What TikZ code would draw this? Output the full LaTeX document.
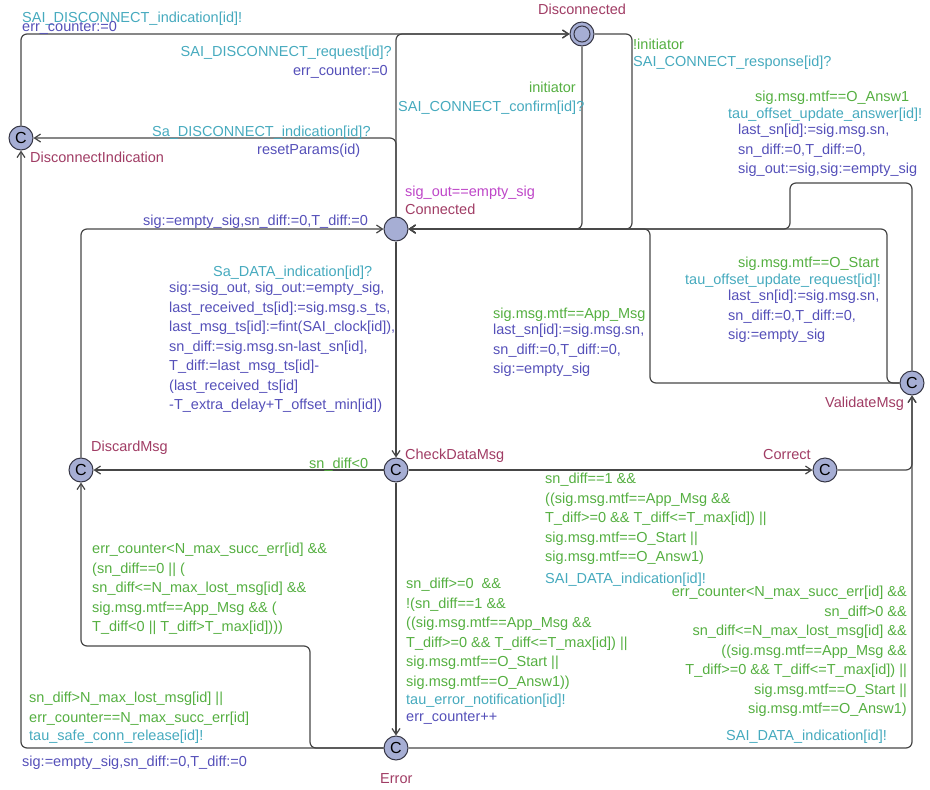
\documentclass[tikz,border=0pt]{standalone}
\usepackage{fontspec}
\setmainfont[Ligatures=NoCommon]{Liberation Sans}
\usetikzlibrary{arrows.meta}
\definecolor{locfill}{RGB}{166,174,212}
\definecolor{locline}{RGB}{55,55,70}
\definecolor{edgecol}{RGB}{70,70,70}
\definecolor{namecol}{RGB}{160,60,100}
\definecolor{invcol}{RGB}{190,70,200}
\definecolor{guardcol}{RGB}{85,175,65}
\definecolor{synccol}{RGB}{70,170,190}
\definecolor{updcol}{RGB}{85,80,185}
\begin{document}
\begin{tikzpicture}[x=1pt,y=-1pt,
	loc/.style={circle,draw=locline,fill=locfill,line width=1pt,minimum size=24pt,inner sep=0pt,font=\fontsize{16}{16}\selectfont},
	lab/.style={inner sep=0pt,align=left,anchor=north west,font=\fontsize{14.5}{19.5}\selectfont,execute at begin node=\strut},
	locname/.style={lab,text=namecol},
	inv/.style={lab,text=invcol},
	guard/.style={lab,text=guardcol},
	sync/.style={lab,text=synccol},
	upd/.style={lab,text=updcol},
	edge/.style={draw=edgecol,line width=1.2pt,rounded corners=6pt,-{Straight Barb[length=6pt,width=8pt]}}]
				%\draw [help lines] (0,0) grid[step=10] (930,790);
				\useasboundingbox (0,0) rectangle (930,790);
				% locations
				\node[loc] (discind) at (21,138) {C};
				\node[loc] (disc) at (582,34) {};
				\node[loc,minimum size=16pt] (disc-in) at (disc) {};
				\node[loc] (conn) at (396,229) {};
				\node[loc] (discard) at (81,470) {C};
				\node[loc] (check) at (396,470) {C};
				\node[loc] (correct) at (825,470) {C};
				\node[loc] (valid) at (912,383) {C};
				\node[loc] (err) at (396,748) {C};
				\node[locname,anchor=north] (disc-name) at (582,1) {Disconnected};
				\node[locname] (discind-name) at (30,149) {DisconnectIndication};
				\node[inv] (conn-inv) at (405,183) {sig\_out==empty\_sig};
				\node[locname] (conn-name) at (405,201) {Connected};
				\node[locname] (discard-name) at (91,438) {DiscardMsg};
				\node[locname] (check-name) at (405,446) {CheckDataMsg};
				\node[locname] (correct-name) at (763,446) {Correct};
				\node[locname] (valid-name) at (825,394) {ValidateMsg};
				\node[locname] (err-name) at (380,770) {Error};
				% edges
				\draw[edge] (discind) -- (discind |- disc) -- (disc);
				\draw[edge] (conn) -- (conn |- disc) -- (disc);
				\draw[edge] (conn) -- (conn |- discind) -- (discind);
				\draw[edge] (disc) -- (disc |- conn) -- (conn);
				\draw[edge] (disc) -- (632,34) -- (632,229) -- (conn);
				\draw[edge] (valid) -- (912,183) -- (790,183) -- (790,229) -- (conn);
				\draw[edge] (valid) -- (887,383) -- (887,229) -- (conn);
				\draw[edge] (valid) -- (650,383) -- (650,229) -- (conn);
				\draw[edge] (conn) -- (check);
				\draw[edge] (discard) -- (discard |- conn) -- (conn);
				\draw[edge] (check) -- (discard);
				\draw[edge] (check) -- (correct);
				\draw[edge] (correct) -- (correct -| valid) -- (valid);
				\draw[edge] (err) -- (err -| valid) -- (valid);
				\draw[edge] (check) -- (err);
				\draw[edge] (err) -- (310,748) -- (310,646) -- (81,646) -- (discard);
				\draw[edge] (err) -- (err -| discind) -- (discind);
				% labels
				\node[sync] (s-discind) at (22,9) {SAI\_DISCONNECT\_indication[id]!};
				\node[upd] (u-discind) at (22,18) {err\_counter:=0};
				\node[sync,anchor=north east] (s-discreq) at (392,43) {SAI\_DISCONNECT\_request[id]?};
				\node[upd,anchor=north east] (u-discreq) at (388,62) {err\_counter:=0};
				\node[sync] (s-sadisc) at (152,123) {Sa\_DISCONNECT\_indication[id]?};
				\node[upd] (u-sadisc) at (257,141) {resetParams(id)};
				\node[guard,anchor=north east] (g-confirm) at (576,79) {initiator};
				\node[sync] (s-confirm) at (398,98) {SAI\_CONNECT\_confirm[id]?};
				\node[guard] (g-response) at (633,36) {!initiator};
				\node[sync] (s-response) at (633,53) {SAI\_CONNECT\_response[id]?};
				\node[guard] (g-answ) at (755,88) {sig.msg.mtf==O\_Answ1};
				\node[sync] (s-answ) at (728,105) {tau\_offset\_update\_answer[id]!};
				\node[upd] (u-answ) at (738,124) {last\_sn[id]:=sig.msg.sn,\\sn\_diff:=0,T\_diff:=0,\\sig\_out:=sig,sig:=empty\_sig};
				\node[guard] (g-start) at (738,254) {sig.msg.mtf==O\_Start};
				\node[sync] (s-start) at (685,271) {tau\_offset\_update\_request[id]!};
				\node[upd] (u-start) at (728,290) {last\_sn[id]:=sig.msg.sn,\\sn\_diff:=0,T\_diff:=0,\\sig:=empty\_sig};
				\node[guard] (g-app) at (493,305) {sig.msg.mtf==App\_Msg};
				\node[upd] (u-app) at (493,324) {last\_sn[id]:=sig.msg.sn,\\sn\_diff:=0,T\_diff:=0,\\sig:=empty\_sig};
				\node[sync] (s-data) at (213,263) {Sa\_DATA\_indication[id]?};
				\node[upd] (u-data) at (169,282) {sig:=sig\_out, sig\_out:=empty\_sig,\\last\_received\_ts[id]:=sig.msg.s\_ts,\\last\_msg\_ts[id]:=fint(SAI\_clock[id]),\\sn\_diff:=sig.msg.sn-last\_sn[id],\\T\_diff:=last\_msg\_ts[id]-\\(last\_received\_ts[id]\\-T\_extra\_delay+T\_offset\_min[id])};
				\node[upd] (u-discard) at (143,212) {sig:=empty\_sig,sn\_diff:=0,T\_diff:=0};
				\node[guard] (g-neg) at (309,455) {sn\_diff<0};
				\node[guard] (g-correct) at (545,473) {sn\_diff==1 \&\&\\((sig.msg.mtf==App\_Msg \&\&\\T\_diff>=0 \&\& T\_diff<=T\_max[id]) ||\\sig.msg.mtf==O\_Start ||\\sig.msg.mtf==O\_Answ1)};
				\node[sync] (s-correct) at (545,570) {SAI\_DATA\_indication[id]!};
				\node[guard,align=right,anchor=north east] (g-lost) at (907,586) {err\_counter<N\_max\_succ\_err[id] \&\&\\sn\_diff>0 \&\&\\sn\_diff<=N\_max\_lost\_msg[id] \&\&\\((sig.msg.mtf==App\_Msg \&\&\\T\_diff>=0 \&\& T\_diff<=T\_max[id]) ||\\sig.msg.mtf==O\_Start ||\\sig.msg.mtf==O\_Answ1)};
				\node[sync] (s-lost) at (726,727) {SAI\_DATA\_indication[id]!};
				\node[guard] (g-error) at (406,578) {sn\_diff>=0\ \ \&\&\\!(sn\_diff==1 \&\&\\((sig.msg.mtf==App\_Msg \&\&\\T\_diff>=0 \&\& T\_diff<=T\_max[id]) ||\\sig.msg.mtf==O\_Start ||\\sig.msg.mtf==O\_Answ1))};
				\node[sync] (s-error) at (406,691) {tau\_error\_notification[id]!};
				\node[upd] (u-error) at (406,708) {err\_counter++};
				\node[guard] (g-drop) at (92,543) {err\_counter<N\_max\_succ\_err[id] \&\&\\(sn\_diff==0 || (\\sn\_diff<=N\_max\_lost\_msg[id] \&\&\\sig.msg.mtf==App\_Msg \&\& (\\T\_diff<0 || T\_diff>T\_max[id])))};
				\node[guard] (g-release) at (29,692) {sn\_diff>N\_max\_lost\_msg[id] ||\\err\_counter==N\_max\_succ\_err[id]};
				\node[sync] (s-release) at (29,727) {tau\_safe\_conn\_release[id]!};
				\node[upd] (u-release) at (22,753) {sig:=empty\_sig,sn\_diff:=0,T\_diff:=0};
				\end{tikzpicture}
\end{document}
